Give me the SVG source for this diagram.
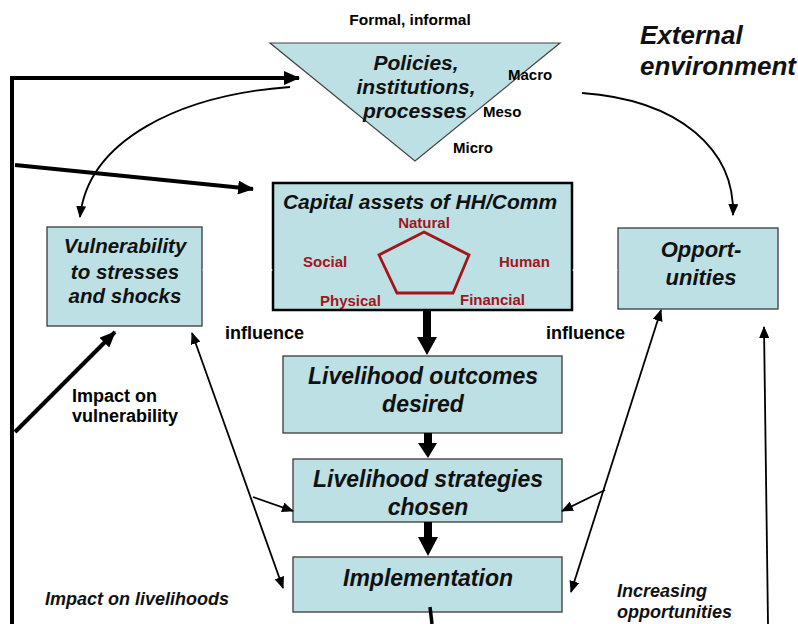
<svg xmlns="http://www.w3.org/2000/svg" width="798" height="624" viewBox="0 0 798 624">
<defs>
<style>
.box{fill:#bce0e3;stroke:#3a3a3a;stroke-width:1.3}
.cap{fill:#bce0e3;stroke:#000;stroke-width:2.5}
.t{font-family:"Liberation Sans",Arial,sans-serif;font-weight:bold;fill:#000}
.ti{font-family:"Liberation Sans",Arial,sans-serif;font-weight:bold;font-style:italic;fill:#111}
.red{font-family:"Liberation Sans",Arial,sans-serif;font-weight:bold;fill:#a3151b;font-size:15px}
.thick{fill:none;stroke:#000;stroke-width:4}
.thin{fill:none;stroke:#000;stroke-width:1.8}
.white{fill:none;stroke:#fff;stroke-width:1.5}
</style>
<marker id="ah" markerUnits="userSpaceOnUse" markerWidth="12" markerHeight="10" refX="11" refY="5" orient="auto-start-reverse"><path d="M0,0 L12,5 L0,10 z" fill="#000"/></marker>
<marker id="ahT" markerUnits="userSpaceOnUse" markerWidth="16" markerHeight="14" refX="15" refY="7" orient="auto"><path d="M0,0 L16,7 L0,14 z" fill="#000"/></marker>
<marker id="ahW" markerUnits="userSpaceOnUse" markerWidth="8" markerHeight="8" refX="7" refY="4" orient="auto-start-reverse"><path d="M0,0 L8,4 L0,8 z" fill="#fff"/></marker>
</defs>
<rect width="798" height="624" fill="#fff"/>

<g id="policies">
<polygon points="270,43 560,43 415,161" fill="#bce0e3" stroke="#444" stroke-width="1.2"/>
<text class="t" x="410" y="25" font-size="15.5" text-anchor="middle">Formal, informal</text>
<text class="ti" x="416" y="70" font-size="21" text-anchor="middle">Policies,</text>
<text class="ti" x="416" y="94" font-size="21" text-anchor="middle">institutions,</text>
<text class="ti" x="415" y="118" font-size="21" text-anchor="middle">processes</text>
<text class="t" x="508" y="80" font-size="15">Macro</text>
<text class="t" x="483" y="117" font-size="15">Meso</text>
<text class="t" x="453" y="153" font-size="15">Micro</text>
</g>

<g id="external">
<text class="ti" x="640" y="44" font-size="26">External</text>
<text class="ti" x="640" y="75" font-size="26">environment</text>
</g>

<g id="capital">
<rect class="cap" x="273" y="183" width="299" height="127"/>
<text class="ti" x="420" y="209" font-size="21" text-anchor="middle">Capital assets of HH/Comm</text>
<polygon points="424,232 469,255 453,293 397,293 379,255" fill="none" stroke="#a3151b" stroke-width="2.8"/>
<text class="red" x="424" y="228" text-anchor="middle">Natural</text>
<text class="red" x="303" y="267">Social</text>
<text class="red" x="499" y="267">Human</text>
<text class="red" x="320" y="306">Physical</text>
<text class="red" x="460" y="305">Financial</text>
</g>

<g id="vulnerability">
<rect class="box" x="47" y="227" width="155" height="99"/>
<text class="ti" x="125" y="253" font-size="20.5" text-anchor="middle">Vulnerability</text>
<text class="ti" x="125" y="279" font-size="20.5" text-anchor="middle">to stresses</text>
<text class="ti" x="125" y="303" font-size="20.5" text-anchor="middle">and shocks</text>
</g>

<g id="opportunities">
<rect class="box" x="618" y="228" width="160" height="81"/>
<text class="ti" x="701" y="257" font-size="22" text-anchor="middle">Opport-</text>
<text class="ti" x="701" y="285" font-size="22" text-anchor="middle">unities</text>
</g>

<g id="outcomes">
<rect class="box" x="283" y="356" width="279" height="77"/>
<text class="ti" x="423" y="384" font-size="23" text-anchor="middle">Livelihood outcomes</text>
<text class="ti" x="423" y="412" font-size="23" text-anchor="middle">desired</text>
</g>

<g id="strategies">
<rect class="box" x="293" y="459" width="269" height="63"/>
<text class="ti" x="428" y="487" font-size="23" text-anchor="middle">Livelihood strategies</text>
<text class="ti" x="428" y="515" font-size="23" text-anchor="middle">chosen</text>
</g>

<g id="implementation">
<rect class="box" x="293" y="557" width="269" height="55"/>
<text class="ti" x="428" y="586" font-size="23" text-anchor="middle">Implementation</text>
</g>

<g id="labels">
<text class="t" x="225" y="339" font-size="18">influence</text>
<text class="t" x="546" y="339" font-size="18">influence</text>
<text class="t" x="72" y="402" font-size="18">Impact on</text>
<text class="t" x="72" y="422" font-size="18">vulnerability</text>
<text class="ti" x="45" y="605" font-size="18">Impact on livelihoods</text>
<text class="ti" x="617" y="597" font-size="18">Increasing</text>
<text class="ti" x="617" y="618" font-size="18">opportunities</text>
</g>

<g id="connectors">
<path class="thick" d="M12,624 L12,78 L299,78" marker-end="url(#ahT)"/>
<path class="thick" d="M15,165 L253,189" marker-end="url(#ahT)"/>
<path class="thick" d="M15,432 L115,332" marker-end="url(#ahT)"/>
<path class="thin" d="M290,87 C180,95 88,140 80,217" marker-end="url(#ah)"/>
<path class="thin" d="M582,93 C680,100 735,150 733,215" marker-end="url(#ah)"/>
<path class="thin" d="M192,333 L283,588" marker-start="url(#ah)" marker-end="url(#ah)"/>
<path class="thin" d="M253,497 L293,511" stroke-width="2.4" marker-end="url(#ah)"/>
<path class="thin" d="M661,310 L571,592" marker-start="url(#ah)" marker-end="url(#ah)"/>
<path class="thin" d="M605,490 L562,511" stroke-width="2.4" marker-end="url(#ah)"/>
<path class="thin" d="M768,624 L764,327" stroke-width="2.2" marker-end="url(#ah)"/>
<path d="M423,310 L431,310 L431,337 L437,337 L427,355 L417,337 L423,337 Z" fill="#000"/>
<path d="M424,433 L432,433 L432,443 L437,443 L428,458 L418,443 L424,443 Z" fill="#000"/>
<path d="M424,522 L432,522 L432,537 L438,537 L428,556 L418,537 L424,537 Z" fill="#000"/>
<path d="M430,607 L432,624" stroke="#000" stroke-width="3.5" fill="none"/>
<path class="white" d="M203,270 L272,270" marker-start="url(#ahW)" marker-end="url(#ahW)"/>
<path class="white" d="M573,270 L617,270" marker-start="url(#ahW)" marker-end="url(#ahW)"/>
</g>
</svg>
